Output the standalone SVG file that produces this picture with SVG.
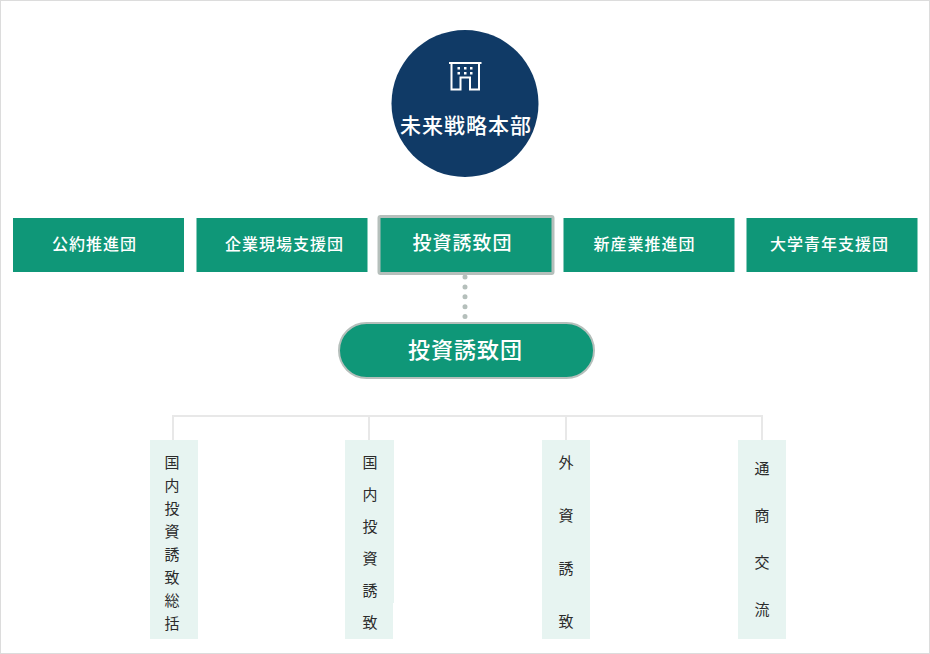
<svg xmlns="http://www.w3.org/2000/svg" width="930" height="654" viewBox="0 0 930 654">
<style>
text{font-family:"Noto Sans CJK JP","Noto Sans",sans-serif;text-anchor:middle}
.w{fill:#fff;font-weight:500}
.team{fill:#0f9778}
.sub{fill:#e7f4f1}
.v{fill:#2b2b2b;font-size:15px}
.t16{font-size:16px;letter-spacing:1px}
.icon{fill:none;stroke:#fff;stroke-width:2}
</style>
<rect x="0.5" y="0.5" width="929" height="653" fill="#fff" stroke="#dcdcdc"/>
<g id="connectors">
<path d="M173 440V416H762V440M369 416V440M566 416V440" fill="none" stroke="#e8e8e8" stroke-width="2"/>
<path d="M465 277V320" fill="none" stroke="#b5bfbb" stroke-width="5" stroke-linecap="round" stroke-dasharray="0 9.9"/>
</g>
<g id="hq">
<circle cx="465" cy="103.500" r="73.500" fill="#103a66"/>
<path class="icon" d="M449 63H481.500M451.500 63V89.500H460.500V77.500H470V89.500H479V63"/>
<path d="M457.500 67h2.500v2.500h-2.500zM464 67h2.500v2.500h-2.500zM470 67h2.500v2.500h-2.500zM457.500 72h2.500v2.500h-2.500zM464 72h2.500v2.500h-2.500zM470 72h2.500v2.500h-2.500z" fill="#fff"/>
<text class="w" x="466" y="133" font-size="21" letter-spacing="1">未来戦略本部</text>
</g>
<g id="team1"><rect class="team" x="13" y="218" width="171" height="54"/><text class="w t16" x="94.500" y="250">公約推進団</text></g>
<g id="team2"><rect class="team" x="196.500" y="218" width="171" height="54"/><text class="w t16" x="284.500" y="250">企業現場支援団</text></g>
<g id="team3"><rect class="team" x="379" y="216.500" width="174" height="57" rx="1.500" stroke="#b5bfbb" stroke-width="3"/><text class="w" x="462.500" y="250" font-size="19" letter-spacing="1">投資誘致団</text></g>
<g id="team4"><rect class="team" x="563.500" y="218" width="171" height="54"/><text class="w t16" x="644.500" y="250">新産業推進団</text></g>
<g id="team5"><rect class="team" x="746.500" y="218" width="171" height="54"/><text class="w t16" x="829.500" y="250">大学青年支援団</text></g>
<g id="detail"><rect class="team" x="339" y="323" width="255" height="55" rx="27.500" stroke="#b5bfbb" stroke-width="2"/><text class="w" x="465.500" y="358" font-size="22" letter-spacing="1">投資誘致団</text></g>
<g id="sub1"><rect class="sub" x="150" y="440" width="48" height="199"/>
<text class="v" x="172" y="468">国</text><text class="v" x="172" y="491">内</text><text class="v" x="172" y="514">投</text><text class="v" x="172" y="537">資</text><text class="v" x="172" y="560">誘</text><text class="v" x="172" y="583">致</text><text class="v" x="172" y="606">総</text><text class="v" x="172" y="629">括</text></g>
<g id="sub2"><path class="sub" d="M345 440H394V603H393V639H345Z"/>
<text class="v" x="370" y="468">国</text><text class="v" x="370" y="500">内</text><text class="v" x="370" y="532">投</text><text class="v" x="370" y="564">資</text><text class="v" x="370" y="596">誘</text><text class="v" x="370" y="628">致</text></g>
<g id="sub3"><rect class="sub" x="542" y="440" width="48" height="199"/>
<text class="v" x="566" y="468">外</text><text class="v" x="566" y="521">資</text><text class="v" x="566" y="574">誘</text><text class="v" x="566" y="627">致</text></g>
<g id="sub4"><rect class="sub" x="738" y="440" width="48" height="199"/>
<text class="v" x="762" y="474">通</text><text class="v" x="762" y="521">商</text><text class="v" x="762" y="568">交</text><text class="v" x="762" y="615">流</text></g>
</svg>
